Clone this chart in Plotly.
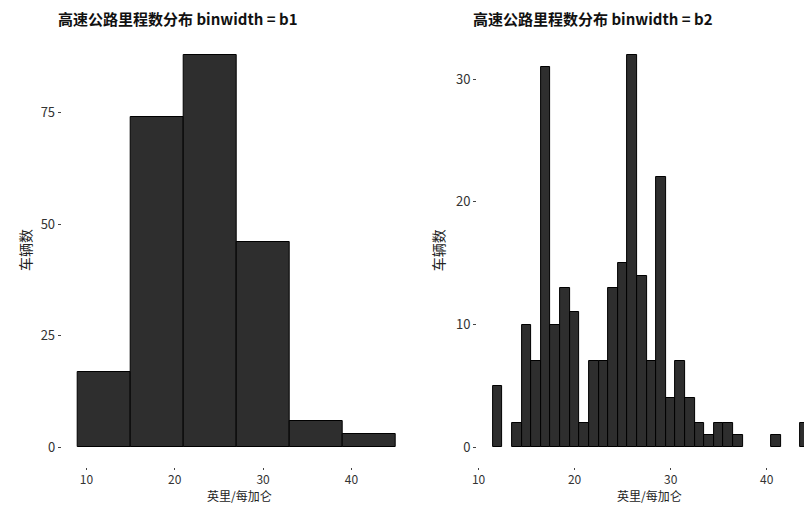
import plotly.graph_objects as go

# Left panel: binwidth b1 = 6
b1_edges = [9, 15, 21, 27, 33, 39, 45]
b1_counts = [17, 74, 88, 46, 6, 3]

# Right panel: binwidth b2 = 1 (centres on integer hwy values)
b2_centers = [12, 14, 15, 16, 17, 18, 19, 20, 21, 22, 23, 24, 25, 26, 27, 28,
              29, 30, 31, 32, 33, 34, 35, 36, 37, 41, 44]
b2_counts = [5, 2, 10, 7, 31, 10, 13, 11, 2, 7, 7, 13, 15, 32, 14, 7,
             22, 4, 7, 4, 2, 1, 2, 2, 1, 1, 2]
b2_width = 1

title1 = "高速公路里程数分布 binwidth = b1"
title2 = "高速公路里程数分布 binwidth = b2"
xlab = "英里/每加仑"
ylab = "车辆数"

FONT = "Noto Sans CJK SC"
FILL = "#2e2e2e"
LINE = "#000000"

b1_centers = [(b1_edges[i] + b1_edges[i + 1]) / 2 for i in range(len(b1_counts))]
b1_widths = [b1_edges[i + 1] - b1_edges[i] for i in range(len(b1_counts))]

fig = go.Figure()
fig.add_trace(go.Bar(x=b1_centers, y=b1_counts, width=b1_widths,
                     marker=dict(color=FILL, line=dict(color=LINE, width=1)),
                     xaxis="x", yaxis="y", showlegend=False))
fig.add_trace(go.Bar(x=b2_centers, y=b2_counts, width=[b2_width] * len(b2_centers),
                     marker=dict(color=FILL, line=dict(color=LINE, width=1)),
                     xaxis="x2", yaxis="y2", showlegend=False))

OFF = 8  # page body margin
W, H = 812 - OFF, 505 - OFF


def px(v):
    return (v - OFF) / W


def py(v):
    return 1 - (v - OFF) / H


l1, r1 = 57, 409
l2 = 475
top, bot = 35, 467

axis_common = dict(showgrid=False, zeroline=False, showline=False,
                   ticks="outside", ticklen=3, tickcolor="#444",
                   tickfont=dict(family=FONT, size=13, color="#333"))
xaxis_common = dict(axis_common, ticklen=2,
                    tickfont=dict(family=FONT, size=12, color="#333"))

fig.update_layout(
    width=W, height=H,
    margin=dict(l=0, r=0, t=0, b=0),
    paper_bgcolor="white", plot_bgcolor="white",
    bargap=0,
    font=dict(family=FONT, color="#222"),
    xaxis=dict(domain=[px(l1), px(r1)], range=[7.2, 46.8], tickvals=[10, 20, 30, 40],
               anchor="y", **xaxis_common),
    yaxis=dict(domain=[py(bot), py(top)], range=[-4.4, 92.4],
               tickvals=[0, 25, 50, 75], anchor="x", **axis_common),
    xaxis2=dict(domain=[px(l2), 1.0], range=[9.85, 10 + (812 - 477) / 9.65],
                tickvals=[10, 20, 30, 40], anchor="y2", **xaxis_common),
    yaxis2=dict(domain=[py(bot), py(top)], range=[-1.6, 33.6],
                tickvals=[0, 10, 20, 30], anchor="x2", **axis_common),
    annotations=[
        dict(text="<b>" + title1 + "</b>", x=px(51), y=py(18), xref="paper", yref="paper",
             xanchor="left", yanchor="middle", showarrow=False,
             font=dict(family=FONT, size=15, color="#111")),
        dict(text="<b>" + title2 + "</b>", x=px(469), y=py(18), xref="paper", yref="paper",
             xanchor="left", yanchor="middle", showarrow=False,
             font=dict(family=FONT, size=15, color="#111")),
        dict(text=xlab, x=px(236), y=py(495), xref="paper", yref="paper",
             xanchor="center", yanchor="middle", showarrow=False, borderpad=0,
             font=dict(family=FONT, size=12, color="#222")),
        dict(text=xlab, x=px(648), y=py(495), xref="paper", yref="paper",
             xanchor="center", yanchor="middle", showarrow=False, borderpad=0,
             font=dict(family=FONT, size=12, color="#222")),
        dict(text=ylab, x=px(20), y=py(250), xref="paper", yref="paper",
             xanchor="center", yanchor="middle", showarrow=False, textangle=-90,
             font=dict(family=FONT, size=14, color="#222")),
        dict(text=ylab, x=px(436), y=py(250), xref="paper", yref="paper",
             xanchor="center", yanchor="middle", showarrow=False, textangle=-90,
             font=dict(family=FONT, size=14, color="#222")),
    ],
)

fig.write_html("out.html")
